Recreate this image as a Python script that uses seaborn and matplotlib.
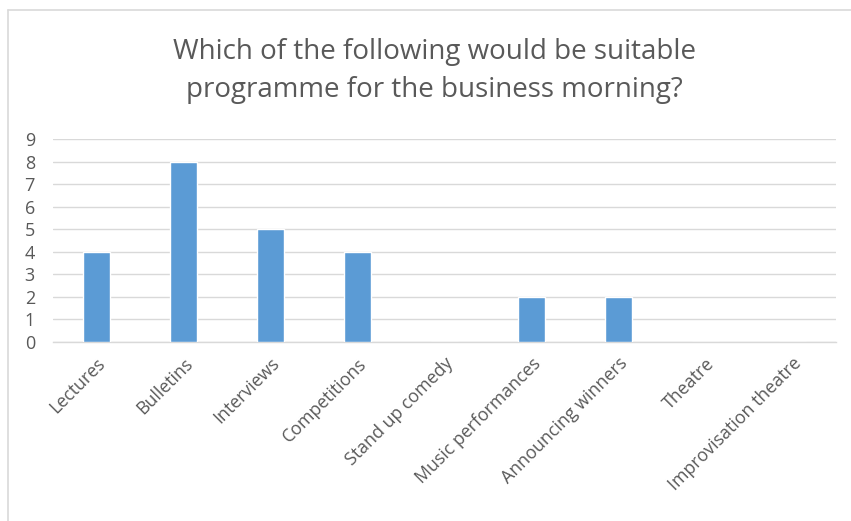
import matplotlib
matplotlib.use("Agg")
import matplotlib.pyplot as plt
from matplotlib.lines import Line2D
import seaborn as sns
import pandas as pd

categories = ["Lectures", "Bulletins", "Interviews", "Competitions", "Stand up comedy",
              "Music performances", "Announcing winners", "Theatre", "Improvisation theatre"]
counts = [4, 8, 5, 4, 0, 2, 2, 0, 0]
y_ticks = [0, 1, 2, 3, 4, 5, 6, 7, 8, 9]
title = "Which of the following would be suitable\nprogramme for the business morning?"

sns.set_theme(style="white")
plt.rcParams["font.family"] = ["Open Sans", "DejaVu Sans"]

text_color = "#595959"
grid_color = "#D9D9D9"
bar_color = "#5B9BD5"

df = pd.DataFrame({"category": categories, "count": counts})

fig = plt.figure(figsize=(8.51, 5.21), dpi=100)
ax = fig.add_axes([53 / 851, 1 - 342 / 521, (836 - 53) / 851, (342 - 139) / 521])

sns.barplot(data=df, x="category", y="count", color=bar_color, width=0.31,
            saturation=1, ax=ax, zorder=3)

ax.set_ylim(0, 9)
ax.set_xlim(-0.5, len(categories) - 0.5)
ax.set_yticks(y_ticks)
ax.yaxis.grid(True, color=grid_color, linewidth=1.0, zorder=0)
ax.set_axisbelow(True)
for s in ["top", "right", "left"]:
    ax.spines[s].set_visible(False)
ax.spines["bottom"].set_color(grid_color)
ax.spines["bottom"].set_linewidth(1.0)
ax.tick_params(axis="both", length=0, colors=text_color, labelsize=13)
ax.tick_params(axis="y", pad=13)
ax.tick_params(axis="x", pad=9)
ax.set_xlabel("")
ax.set_ylabel("")
ax.set_xticks(range(len(categories)))
ax.set_xticklabels(categories, rotation=45, ha="right", rotation_mode="anchor",
                   color=text_color, fontsize=12.8)

fig.text(0.511, 1 - 71 / 521, title, ha="center", va="center", fontsize=20,
         color=text_color, linespacing=1.45)

# chart frame edges
fig.add_artist(Line2D([7.5 / 851, 1], [1 - 9.5 / 521, 1 - 9.5 / 521],
                      transform=fig.transFigure, color=grid_color, linewidth=1.2))
fig.add_artist(Line2D([7.5 / 851, 7.5 / 851], [0, 1 - 9.5 / 521],
                      transform=fig.transFigure, color=grid_color, linewidth=1.2))

fig.savefig("out.png", dpi=100, facecolor="white")
